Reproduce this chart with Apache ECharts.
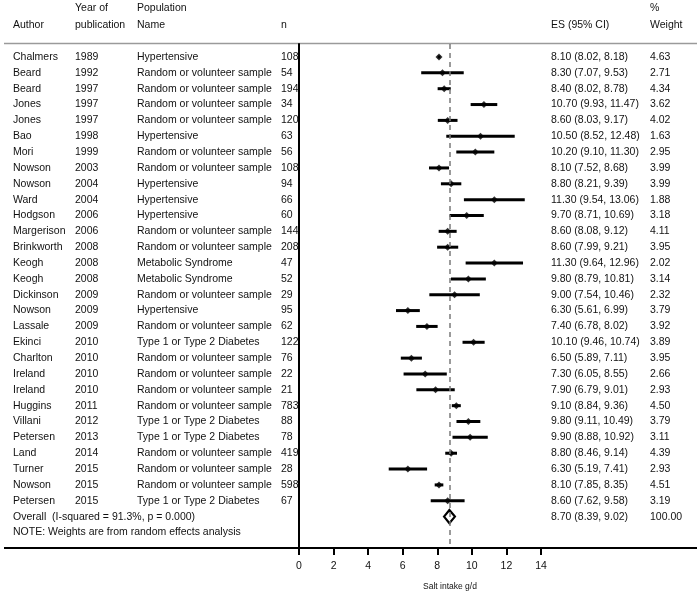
<!DOCTYPE html>
<html>
<head>
<meta charset="utf-8">
<script src="https://cdn.jsdelivr.net/npm/echarts@6/dist/echarts.min.js"></script>
<style>
  html, body { margin: 0; padding: 0; background: #fff; }
  #chart { width: 700px; height: 595px; }
</style>
</head>
<body>
<div id="chart"></div>
<script>
const authors = ["Chalmers", "Beard", "Beard", "Jones", "Jones", "Bao", "Mori", "Nowson", "Nowson", "Ward",
  "Hodgson", "Margerison", "Brinkworth", "Keogh", "Keogh", "Dickinson", "Nowson", "Lassale", "Ekinci", "Charlton",
  "Ireland", "Ireland", "Huggins", "Villani", "Petersen", "Land", "Turner", "Nowson", "Petersen"];
const years = [1989, 1992, 1997, 1997, 1997, 1998, 1999, 2003, 2004, 2004,
  2006, 2006, 2008, 2008, 2008, 2009, 2009, 2009, 2010, 2010,
  2010, 2010, 2011, 2012, 2013, 2014, 2015, 2015, 2015];
const RV = "Random or volunteer sample", HT = "Hypertensive", MS = "Metabolic Syndrome", DM = "Type 1 or Type 2 Diabetes";
const populations = [HT, RV, RV, RV, RV, HT, RV, RV, HT, HT,
  HT, RV, RV, MS, MS, RV, HT, RV, DM, RV,
  RV, RV, RV, DM, DM, RV, RV, RV, DM];
const ns = [108, 54, 194, 34, 120, 63, 56, 108, 94, 66,
  60, 144, 208, 47, 52, 29, 95, 62, 122, 76,
  22, 21, 783, 88, 78, 419, 28, 598, 67];
const es = [8.10, 8.30, 8.40, 10.70, 8.60, 10.50, 10.20, 8.10, 8.80, 11.30,
  9.70, 8.60, 8.60, 11.30, 9.80, 9.00, 6.30, 7.40, 10.10, 6.50,
  7.30, 7.90, 9.10, 9.80, 9.90, 8.80, 6.30, 8.10, 8.60];
const lo = [8.02, 7.07, 8.02, 9.93, 8.03, 8.52, 9.10, 7.52, 8.21, 9.54,
  8.71, 8.08, 7.99, 9.64, 8.79, 7.54, 5.61, 6.78, 9.46, 5.89,
  6.05, 6.79, 8.84, 9.11, 8.88, 8.46, 5.19, 7.85, 7.62];
const hi = [8.18, 9.53, 8.78, 11.47, 9.17, 12.48, 11.30, 8.68, 9.39, 13.06,
  10.69, 9.12, 9.21, 12.96, 10.81, 10.46, 6.99, 8.02, 10.74, 7.11,
  8.55, 9.01, 9.36, 10.49, 10.92, 9.14, 7.41, 8.35, 9.58];
const weights = [4.63, 2.71, 4.34, 3.62, 4.02, 1.63, 2.95, 3.99, 3.99, 1.88,
  3.18, 4.11, 3.95, 2.02, 3.14, 2.32, 3.79, 3.92, 3.89, 3.95,
  2.66, 2.93, 4.50, 3.79, 3.11, 4.39, 2.93, 4.51, 3.19];
const overall = { label: "Overall  (I-squared = 91.3%, p = 0.000)", es: 8.70, lo: 8.39, hi: 9.02, weight: 100.00 };
const xTicks = [0, 2, 4, 6, 8, 10, 12, 14];

const FONT = "Liberation Sans, Arial, sans-serif";
const INK = "#111";
const overallRow = authors.length;

const esText = (e, l, h) => `${e.toFixed(2)} (${l.toFixed(2)}, ${h.toFixed(2)})`;

function txt(x, y, s) {
  return { type: "text", x: x, y: y,
    style: { text: s, fill: INK, fontSize: 10.5, fontFamily: FONT, verticalAlign: "middle" } };
}

const chart = echarts.init(document.getElementById("chart"));

const option = {
  animation: false,
  grid: { left: 299, right: 159, top: 44, bottom: 47, containLabel: false },
  xAxis: {
    type: "value", min: xTicks[0], max: xTicks[xTicks.length - 1], interval: 2,
    axisLine: { show: false, onZero: false },
    axisTick: { show: true, length: 7, lineStyle: { color: "#000", width: 2 } },
    axisLabel: { margin: 13, color: INK, fontSize: 10.5, fontFamily: FONT },
    splitLine: { show: false }
  },
  yAxis: {
    type: "value", inverse: true, min: -0.82, max: 30.98,
    axisLine: { show: true, onZero: false, lineStyle: { color: "#000", width: 2 } },
    axisTick: { show: false }, axisLabel: { show: false }, splitLine: { show: false }
  },
  graphic: [
    { type: "line", shape: { x1: 4, y1: 43.5, x2: 697, y2: 43.5 }, style: { stroke: "#9a9a9a", lineWidth: 1.5 } },
    { type: "line", shape: { x1: 4, y1: 548, x2: 697, y2: 548 }, style: { stroke: "#000", lineWidth: 2 } },
    txt(13, 25, "Author"),
    txt(75, 8, "Year of"), txt(75, 25, "publication"),
    txt(137, 8, "Population"), txt(137, 25, "Name"),
    txt(281, 25, "n"),
    txt(551, 25, "ES (95% CI)"),
    txt(650, 8, "%"), txt(650, 25, "Weight"),
    txt(13, 532, "NOTE: Weights are from random effects analysis"),
    { type: "text", x: 450, y: 587,
      style: { text: "Salt intake g/d", fill: INK, fontSize: 8.5, fontFamily: FONT, align: "center", verticalAlign: "middle" } }
  ],
  series: [
    {
      // row texts, placed on the row's y position
      type: "custom",
      silent: true,
      data: authors.map((a, i) => [0, i]).concat([[0, overallRow]]),
      renderItem: function (params, api) {
        const i = api.value(1);
        const y = api.coord([0, i])[1];
        if (i === overallRow) {
          return { type: "group", children: [
            txt(13, y, overall.label),
            txt(551, y, esText(overall.es, overall.lo, overall.hi)),
            txt(650, y, overall.weight.toFixed(2))
          ] };
        }
        return { type: "group", children: [
          txt(13, y, authors[i]),
          txt(75, y, String(years[i])),
          txt(137, y, populations[i]),
          txt(281, y, String(ns[i])),
          txt(551, y, esText(es[i], lo[i], hi[i])),
          txt(650, y, weights[i].toFixed(2))
        ] };
      }
    },
    {
      // confidence intervals
      type: "custom",
      silent: true,
      data: lo.map((l, i) => [l, hi[i], i]),
      renderItem: function (params, api) {
        const p1 = api.coord([api.value(0), api.value(2)]);
        const p2 = api.coord([api.value(1), api.value(2)]);
        return { type: "line", shape: { x1: p1[0], y1: p1[1], x2: p2[0], y2: p2[1] },
          style: { stroke: "#000", lineWidth: 3 } };
      }
    },
    {
      type: "scatter",
      silent: true,
      symbol: "diamond",
      symbolSize: [7, 7],
      itemStyle: { color: "#000" },
      data: es.map((e, i) => [e, i]),
      markLine: {
        silent: true, symbol: "none", label: { show: false },
        lineStyle: { color: "#7a7a7a", type: [5, 4], width: 1.5 },
        data: [{ xAxis: overall.es }]
      }
    },
    {
      // pooled estimate diamond
      type: "custom",
      silent: true,
      data: [[overall.lo, overall.es, overall.hi, overallRow]],
      renderItem: function (params, api) {
        const r = api.value(3);
        const a = api.coord([api.value(0), r]);
        const t = api.coord([api.value(1), r - 0.42]);
        const b = api.coord([api.value(2), r]);
        const d = api.coord([api.value(1), r + 0.42]);
        return { type: "polygon", shape: { points: [a, t, b, d] },
          style: { fill: "#fff", stroke: "#000", lineWidth: 2.2 } };
      }
    }
  ]
};

chart.setOption(option);
</script>
</body>
</html>
